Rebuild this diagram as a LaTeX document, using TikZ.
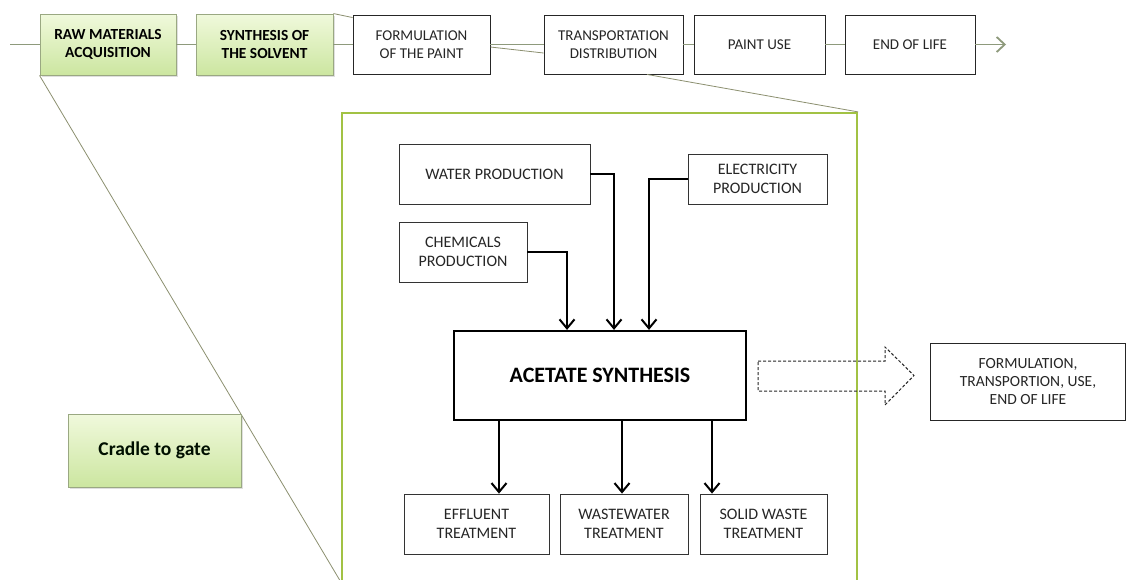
\documentclass[tikz,border=0pt]{standalone}
\usepackage{fontspec}
\setmainfont{Carlito}
\usetikzlibrary{arrows.meta,shadows,calc}
\definecolor{gfillT}{HTML}{F0F9DC}
\definecolor{gfillB}{HTML}{CCE6A0}
\definecolor{gdraw}{HTML}{9AA882}
\definecolor{conn}{HTML}{8E9A7C}
\definecolor{bigg}{HTML}{A2C244}
\definecolor{zoomline}{HTML}{8C9070}
\begin{document}
\begin{tikzpicture}[x=1pt,y=-1pt,
  box/.style={draw=black!85, line width=0.9pt, fill=white, align=center, inner sep=0pt,
    text=black!85, font=\fontsize{15}{17.5}\selectfont},
  gbox/.style={draw=gdraw, line width=0.9pt, top color=gfillT, bottom color=gfillB, align=center,
    inner sep=0pt, drop shadow={shadow xshift=1.5pt, shadow yshift=-1.5pt, opacity=0.25},
    font=\bfseries\fontsize{15.4}{17.5}\selectfont},
  ibox/.style={draw=black!80, line width=0.8pt, fill=white, align=center, inner sep=0pt,
    text=black!85, font=\fontsize{16}{18.5}\selectfont},
  link/.style={draw=conn, line width=0.9pt},
  zl/.style={draw=zoomline, line width=0.8pt},
  arr/.style={draw=black, line width=2pt, -{Straight Barb[length=9pt,width=15pt,line width=2pt]}}
]
\useasboundingbox (0,0) rectangle (1126,579);
\clip (0,0) rectangle (1126,579);
\fill[white] (0,0) rectangle (1126,579);

% big zoom box
\node[draw=bigg, line width=2.2pt, fill=white, minimum width=515pt, minimum height=468pt, inner sep=0pt] (big) at (599.5,347) {};

% top row
\node[gbox, minimum width=136pt, minimum height=61pt] (raw) at (108,44.5) {RAW MATERIALS\\ACQUISITION};
\node[gbox, minimum width=137pt, minimum height=61pt] (syn) at (264.5,44.5) {SYNTHESIS OF\\THE SOLVENT};
\node[box, minimum width=137pt, minimum height=59pt] (form) at (421.5,44.5) {FORMULATION\\OF THE PAINT};
\node[box, minimum width=139pt, minimum height=59pt] (trans) at (613.5,44.5) {TRANSPORTATION\\DISTRIBUTION};
\node[box, minimum width=131pt, minimum height=59pt] (use) at (759.5,44.5) {PAINT USE};
\node[box, minimum width=130pt, minimum height=59pt] (eol) at (910,44.5) {END OF LIFE};

\coordinate (lstart) at (10,44.5);
\coordinate (rend) at (1006,44.5);
\draw[link] (lstart) -- (raw.west);
\draw[link] (raw.east) -- (syn.west);
\draw[link] (syn.east) -- (form.west);
\draw[link] (form.east) -- (trans.west);
\draw[link] (trans.east) -- (use.west);
\draw[link] (use.east) -- (eol.west);
\draw[link, line width=1.4pt, -{Straight Barb[length=8pt,width=15pt,line width=1.8pt]}] (eol.east) -- (rend);

% zoom lines
\draw[zl] (syn.north east) -- ($(form.north west)+(0,3)$);
\draw[zl] ($(form.east)+(0,2.5)$) -- ($(trans.west)+(0,8.5)$);
\draw[zl] (raw.south west) -- (big.south west);
\draw[zl] ($(trans.south)+(33.5,0)$) -- (big.north east);

% inner boxes
\node[ibox, minimum width=191pt, minimum height=60pt] (water) at (494.5,174) {WATER PRODUCTION};
\node[ibox, minimum width=139pt, minimum height=50pt] (elec) at (757.5,179) {ELECTRICITY\\PRODUCTION};
\node[ibox, minimum width=128pt, minimum height=60pt] (chem) at (463,252) {CHEMICALS\\PRODUCTION};
\node[draw=black, line width=2.2pt, fill=white, minimum width=292pt, minimum height=89pt, inner sep=0pt,
  font=\bfseries\fontsize{22}{26}\selectfont] (acet) at (600,375.5) {ACETATE SYNTHESIS};
\node[ibox, minimum width=145pt, minimum height=60pt] (eff) at (476.5,524) {EFFLUENT\\TREATMENT};
\node[ibox, minimum width=128pt, minimum height=60pt] (ww) at (624,524) {WASTEWATER\\TREATMENT};
\node[ibox, minimum width=127pt, minimum height=60pt] (sw) at (763.5,524) {SOLID WASTE\\TREATMENT};

\draw[arr] (chem.east) -| ($(acet.north)+(-33,0)$);
\draw[arr] (water.east) -| ($(acet.north)+(14,0)$);
\draw[arr] (elec.west) -| ($(acet.north)+(49,0)$);
\draw[arr] ($(acet.south)+(-101,0)$) -- (eff.north -| 499,0);
\draw[arr] ($(acet.south)+(22,0)$) -- (ww.north -| 622,0);
\draw[arr] ($(acet.south)+(112,0)$) -- (sw.north -| 712,0);

% dashed block arrow
\draw[black!85, line width=1pt, dash pattern=on 3pt off 2pt]
  (758,361) -- (885,361) -- (885,347) -- (914,375.5) -- (885,405) -- (885,391) -- (758,391) -- cycle;

\node[box, minimum width=195pt, minimum height=77pt, font=\fontsize{15.5}{18}\selectfont] (rest) at (1028,381.5) {FORMULATION,\\TRANSPORTION, USE,\\END OF LIFE};

\node[gbox, minimum width=173pt, minimum height=73pt, text=black!85!green!40!black,
  font=\bfseries\fontsize{19.5}{22}\selectfont] (cradle) at (154.5,450.5) {Cradle to gate};
\end{tikzpicture}
\end{document}
